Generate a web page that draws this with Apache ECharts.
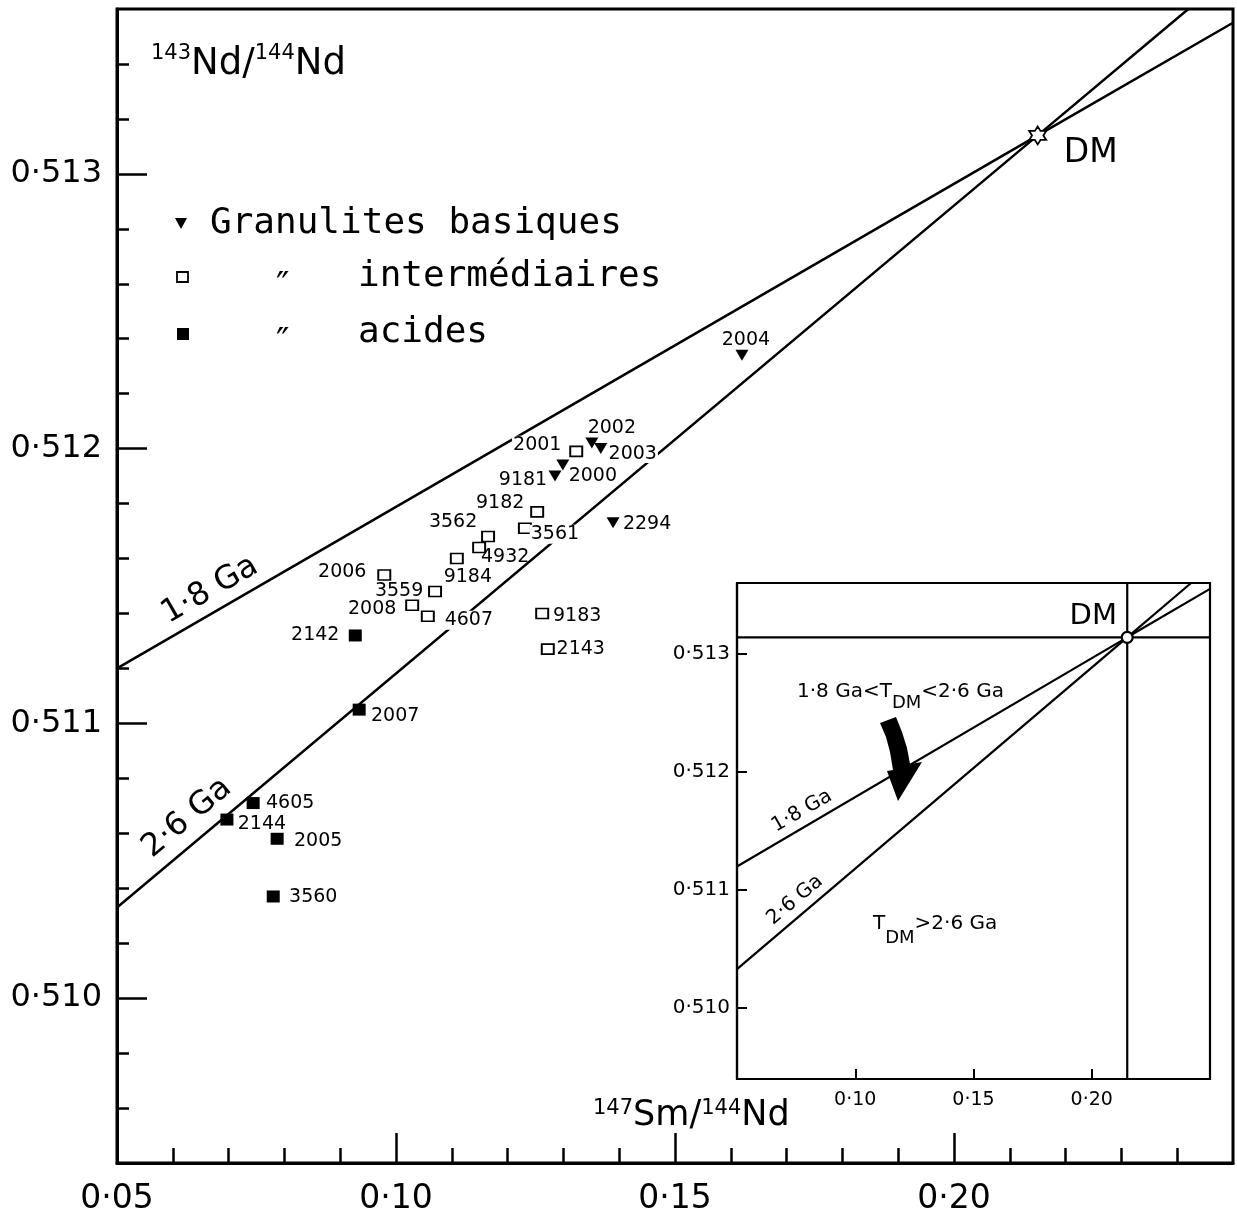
<!DOCTYPE html>
<html>
<head>
<meta charset="utf-8">
<script src="https://cdn.jsdelivr.net/npm/echarts@6/dist/echarts.min.js"></script>
<style>
  html, body { margin: 0; padding: 0; background: #fff; }
  #chart { width: 1237px; height: 1221px; }
</style>
</head>
<body>
<div id="chart"></div>
<script>
// ---------------- data ----------------
// Granulites basiques (filled down-triangles)
const basicIds = ['2004', '2002', '2003', '2000', '9181', '2294'];
const basicSm  = [0.1620, 0.1351, 0.1367, 0.1299, 0.1285, 0.1389];
const basicNd  = [0.51234, 0.51202, 0.51200, 0.51194, 0.51190, 0.51173];

// Granulites intermédiaires (open squares)
const interIds = ['2001', '9182', '3561', '3562', '4932', '9184', '2006', '3559', '2008', '4607', '9183', '2143'];
const interSm  = [0.1323, 0.1253, 0.1231, 0.1165, 0.1149, 0.1109, 0.0979, 0.1070, 0.1029, 0.1057, 0.1262, 0.1272];
const interNd  = [0.51199, 0.51177, 0.51171, 0.51168, 0.51164, 0.51160, 0.51154, 0.51148, 0.51143, 0.51139, 0.51140, 0.51127];

// Granulites acides (filled squares)
const acidIds = ['2142', '2007', '4605', '2144', '2005', '3560'];
const acidSm  = [0.0927, 0.0934, 0.0744, 0.0697, 0.0787, 0.0780];
const acidNd  = [0.51132, 0.51105, 0.51071, 0.51065, 0.51058, 0.51037];

// Depleted mantle point and model-age reference lines (isochrons through DM)
const dmPoint = [0.2150, 0.51314];
const iso18 = [[0.05, 0.51120], [0.2150, 0.51314], [0.25, 0.51355]];
const iso26 = [[0.05, 0.51033], [0.2150, 0.51314], [0.2420, 0.51360]];

// axis ranges and ticks
const xRange = [0.05, 0.25];
const yRange = [0.5094, 0.5136];
const xMajorTicks = [0.05, 0.10, 0.15, 0.20];
const xMinorTicks = [0.06, 0.07, 0.08, 0.09, 0.11, 0.12, 0.13, 0.14, 0.16, 0.17, 0.18, 0.19, 0.21, 0.22, 0.23, 0.24];
const yMajorTicks = [0.510, 0.511, 0.512, 0.513];
const yMinorTicks = [0.5096, 0.5098, 0.5102, 0.5104, 0.5106, 0.5108, 0.5112, 0.5114, 0.5116, 0.5118,
                     0.5122, 0.5124, 0.5126, 0.5128, 0.5132, 0.5134];
const insetXTicks = [0.10, 0.15, 0.20];
const insetYTicks = [0.510, 0.511, 0.512, 0.513];

// ---------------- styling ----------------
const FONT = '"DejaVu Sans", sans-serif';
const MONO = '"DejaVu Sans Mono", monospace';
const BLACK = '#000';

// label placement for each sample (pixel offset from marker centre)
const labelOffset = {
  '2004': [4, -15], '2002': [20, -15], '2003': [32, 5], '2000': [30, 11], '9181': [-32, 4], '2294': [34, 1],
  '2001': [-39, -6], '9182': [-37, -9], '3561': [30, 6], '3562': [-35, -14], '4932': [26, 10], '9184': [11, 19],
  '2006': [-42, -3], '3559': [-36, 0], '2008': [-40, 4], '4607': [41, 4], '9183': [35, 3], '2143': [33, 0],
  '2142': [-40, 0], '2007': [36, 6], '4605': [37, 0], '2144': [35, 5], '2005': [41, 2], '3560': [40, 1]
};
const gapLabels = { '2001': 1, '2003': 1, '3561': 1, '4607': 1 };

function pointsOf(ids, xs, ys) {
  return ids.map((id, i) => ({
    name: id,
    value: [xs[i], ys[i]],
    label: Object.assign(
      { offset: labelOffset[id] || [30, 0] },
      gapLabels[id] ? { backgroundColor: '#fff', padding: [0, 1] } : {}
    )
  }));
}

const pointLabel = {
  show: true, position: 'inside', formatter: p => p.name,
  color: BLACK, fontSize: 19, fontFamily: FONT
};

const dotFmt = (d) => (v) => v.toFixed(d).replace('.', '\u00b7');
const hexagram = 'path://M0,-10L2.887,-5L8.66,-5L5.77,0L8.66,5L2.887,5L0,10L-2.887,5L-8.66,5L-5.77,0L-8.66,-5L-2.887,-5Z';
const deg = Math.PI / 180;

// DM cross-hair lines of the inset, built from the DM point and the axis ranges
const dmVertical = [[dmPoint[0], yRange[0]], [dmPoint[0], yRange[1]]];
const dmHorizontal = [[xRange[0], dmPoint[1]], [xRange[1], dmPoint[1]]];

const option = {
  animation: false,
  backgroundColor: '#fff',
  grid: [
    { left: 117, top: 9, width: 1116, height: 1154, show: true, borderColor: BLACK, borderWidth: 3,
      backgroundColor: 'transparent' },
    { left: 737, top: 583, width: 473, height: 496, show: true, borderColor: BLACK, borderWidth: 2.2,
      backgroundColor: '#fff', z: 5 }
  ],
  xAxis: [
    { gridIndex: 0, type: 'value', min: xRange[0], max: xRange[1], position: 'bottom',
      axisLine: { show: true, lineStyle: { color: BLACK, width: 3 } },
      axisTick: { show: true, inside: true, length: 30, customValues: xMajorTicks, lineStyle: { color: BLACK, width: 2.5 } },
      axisLabel: { show: true, customValues: xMajorTicks, formatter: dotFmt(2), margin: 20,
                   color: BLACK, fontSize: 33, fontFamily: FONT },
      splitLine: { show: false } },
    { gridIndex: 0, type: 'value', min: xRange[0], max: xRange[1], position: 'bottom', offset: 0,
      axisLine: { show: false },
      axisTick: { show: true, inside: true, length: 15, customValues: xMinorTicks, lineStyle: { color: BLACK, width: 2.5 } },
      axisLabel: { show: false }, splitLine: { show: false } },
    { gridIndex: 1, type: 'value', min: xRange[0], max: xRange[1], position: 'bottom',
      axisLine: { show: true, lineStyle: { color: BLACK, width: 2.2 } },
      axisTick: { show: true, inside: true, length: 10, customValues: insetXTicks, lineStyle: { color: BLACK, width: 2 } },
      axisLabel: { show: true, customValues: insetXTicks, formatter: dotFmt(2), margin: 12,
                   color: BLACK, fontSize: 19, fontFamily: FONT },
      splitLine: { show: false }, z: 6 }
  ],
  yAxis: [
    { gridIndex: 0, type: 'value', min: yRange[0], max: yRange[1], position: 'left',
      axisLine: { show: true, lineStyle: { color: BLACK, width: 3 } },
      axisTick: { show: true, inside: true, length: 30, customValues: yMajorTicks, lineStyle: { color: BLACK, width: 2.5 } },
      axisLabel: { show: true, customValues: yMajorTicks, formatter: dotFmt(3), margin: 15,
                   color: BLACK, fontSize: 32, fontFamily: FONT },
      splitLine: { show: false } },
    { gridIndex: 0, type: 'value', min: yRange[0], max: yRange[1], position: 'left', offset: 0,
      axisLine: { show: false },
      axisTick: { show: true, inside: true, length: 12, customValues: yMinorTicks, lineStyle: { color: BLACK, width: 2.5 } },
      axisLabel: { show: false }, splitLine: { show: false } },
    { gridIndex: 1, type: 'value', min: yRange[0], max: yRange[1], position: 'left',
      axisLine: { show: true, lineStyle: { color: BLACK, width: 2.2 } },
      axisTick: { show: true, inside: true, length: 10, customValues: insetYTicks, lineStyle: { color: BLACK, width: 2 } },
      axisLabel: { show: true, customValues: insetYTicks, formatter: dotFmt(3), margin: 7,
                   color: BLACK, fontSize: 20, fontFamily: FONT },
      splitLine: { show: false }, z: 6 }
  ],
  series: [
    // main panel reference lines
    { type: 'line', name: '1.8 Ga', xAxisIndex: 0, yAxisIndex: 0, data: iso18, symbol: 'none',
      lineStyle: { color: BLACK, width: 2.5 }, z: 2, silent: true },
    { type: 'line', name: '2.6 Ga', xAxisIndex: 0, yAxisIndex: 0, data: iso26, symbol: 'none',
      lineStyle: { color: BLACK, width: 2.5 }, z: 2, silent: true },
    // samples
    { type: 'scatter', name: 'Granulites basiques', xAxisIndex: 0, yAxisIndex: 0,
      data: pointsOf(basicIds, basicSm, basicNd), symbol: 'triangle', symbolRotate: 180, symbolSize: [13, 11],
      itemStyle: { color: BLACK, opacity: 1 }, label: pointLabel, z: 4 },
    { type: 'scatter', name: 'intermédiaires', xAxisIndex: 0, yAxisIndex: 0,
      data: pointsOf(interIds, interSm, interNd), symbol: 'rect', symbolSize: [12, 10],
      itemStyle: { color: '#fff', borderColor: BLACK, borderWidth: 1.8, opacity: 1 }, label: pointLabel, z: 4 },
    { type: 'scatter', name: 'acides', xAxisIndex: 0, yAxisIndex: 0,
      data: pointsOf(acidIds, acidSm, acidNd), symbol: 'rect', symbolSize: [13, 12],
      itemStyle: { color: BLACK, opacity: 1 }, label: pointLabel, z: 4 },
    // DM
    { type: 'scatter', name: 'DM', xAxisIndex: 0, yAxisIndex: 0, data: [dmPoint],
      symbol: hexagram, symbolSize: [17, 18],
      itemStyle: { color: '#fff', borderColor: BLACK, borderWidth: 1.8, opacity: 1 },
      label: { show: true, position: 'inside', formatter: 'DM', offset: [53, 18], color: BLACK,
               fontSize: 33, fontFamily: FONT }, z: 5 },
    // inset
    { type: 'line', name: 'inset 1.8 Ga', xAxisIndex: 2, yAxisIndex: 2, data: iso18, symbol: 'none',
      lineStyle: { color: BLACK, width: 2.2 }, z: 7, silent: true },
    { type: 'line', name: 'inset 2.6 Ga', xAxisIndex: 2, yAxisIndex: 2, data: iso26, symbol: 'none',
      lineStyle: { color: BLACK, width: 2.2 }, z: 7, silent: true },
    { type: 'line', name: 'inset DM vertical', xAxisIndex: 2, yAxisIndex: 2, data: dmVertical, symbol: 'none',
      lineStyle: { color: BLACK, width: 2.2 }, z: 7, silent: true },
    { type: 'line', name: 'inset DM horizontal', xAxisIndex: 2, yAxisIndex: 2, data: dmHorizontal, symbol: 'none',
      lineStyle: { color: BLACK, width: 2.2 }, z: 7, silent: true },
    { type: 'scatter', name: 'inset DM', xAxisIndex: 2, yAxisIndex: 2, data: [dmPoint],
      symbol: 'circle', symbolSize: 11,
      itemStyle: { color: '#fff', borderColor: BLACK, borderWidth: 2.2, opacity: 1 },
      label: { show: true, position: 'inside', formatter: 'DM', offset: [-34, -21], color: BLACK,
               fontSize: 29, fontFamily: FONT }, z: 8 }
  ],
  graphic: [
    // axis titles
    { type: 'text', x: 151, y: 64, z: 100,
      style: { text: '{sup|143}Nd/{sup|144}Nd', fill: BLACK, fontSize: 37, fontFamily: FONT, lineHeight: 42,
               align: 'left', verticalAlign: 'middle',
               rich: { sup: { fontSize: 21, fontFamily: FONT, verticalAlign: 'top', lineHeight: 42 } } } },
    { type: 'text', x: 593, y: 1116, z: 100,
      style: { text: '{sup|147}Sm/{sup|144}Nd', fill: BLACK, fontSize: 35, fontFamily: FONT, lineHeight: 36,
               align: 'left', verticalAlign: 'middle',
               rich: { sup: { fontSize: 21, fontFamily: FONT, verticalAlign: 'top', lineHeight: 36 } } } },
    // legend
    { type: 'polygon', z: 100, shape: { points: [[175, 218], [187, 218], [181, 229]] }, style: { fill: BLACK } },
    { type: 'text', x: 210, y: 224, z: 100,
      style: { text: 'Granulites basiques', fill: BLACK, fontSize: 36, fontFamily: MONO, align: 'left', verticalAlign: 'middle' } },
    { type: 'rect', z: 100, shape: { x: 177, y: 272, width: 11, height: 10 }, style: { fill: '#fff', stroke: BLACK, lineWidth: 1.8 } },
    { type: 'text', x: 276, y: 288, z: 100,
      style: { text: '\u2033', fill: BLACK, fontSize: 36, fontFamily: FONT, align: 'left', verticalAlign: 'middle' } },
    { type: 'text', x: 358, y: 277, z: 100,
      style: { text: 'intermédiaires', fill: BLACK, fontSize: 36, fontFamily: MONO, align: 'left', verticalAlign: 'middle' } },
    { type: 'rect', z: 100, shape: { x: 177, y: 328, width: 12, height: 12 }, style: { fill: BLACK } },
    { type: 'text', x: 276, y: 344, z: 100,
      style: { text: '\u2033', fill: BLACK, fontSize: 36, fontFamily: FONT, align: 'left', verticalAlign: 'middle' } },
    { type: 'text', x: 358, y: 333, z: 100,
      style: { text: 'acides', fill: BLACK, fontSize: 36, fontFamily: MONO, align: 'left', verticalAlign: 'middle' } },
    // main panel line labels
    { type: 'text', x: 210, y: 590, rotation: 30 * deg, z: 100,
      style: { text: '1\u00b78 Ga', fill: BLACK, fontSize: 32, fontFamily: FONT, align: 'center', verticalAlign: 'middle' } },
    { type: 'text', x: 187, y: 818, rotation: 40 * deg, z: 100,
      style: { text: '2\u00b76 Ga', fill: BLACK, fontSize: 32, fontFamily: FONT, align: 'center', verticalAlign: 'middle' } },
    // inset annotations
    { type: 'text', x: 802, y: 811, rotation: 30 * deg, z: 100,
      style: { text: '1\u00b78 Ga', fill: BLACK, fontSize: 20, fontFamily: FONT, align: 'center', verticalAlign: 'middle' } },
    { type: 'text', x: 795, y: 900, rotation: 40 * deg, z: 100,
      style: { text: '2\u00b76 Ga', fill: BLACK, fontSize: 20, fontFamily: FONT, align: 'center', verticalAlign: 'middle' } },
    { type: 'text', x: 797, y: 692, z: 100,
      style: { text: '1\u00b78 Ga<T{sub|DM}<2\u00b76 Ga', fill: BLACK, fontSize: 20, fontFamily: FONT, lineHeight: 40,
               align: 'left', verticalAlign: 'middle',
               rich: { sub: { fontSize: 18, fontFamily: FONT, verticalAlign: 'bottom', lineHeight: 40 } } } },
    { type: 'text', x: 873, y: 924, z: 100,
      style: { text: 'T{sub|DM}>2\u00b76 Ga', fill: BLACK, fontSize: 20, fontFamily: FONT, lineHeight: 46,
               align: 'left', verticalAlign: 'middle',
               rich: { sub: { fontSize: 18, fontFamily: FONT, verticalAlign: 'bottom', lineHeight: 46 } } } },
    // curved arrow in inset
    { type: 'polygon', z: 100,
      shape: { points: [[880, 723], [896, 717], [902, 732], [907, 748], [910, 764], [922, 762], [898, 801],
                        [887, 771], [893, 770], [890, 752], [886, 737]] },
      style: { fill: BLACK } }
  ]
};

const chart = echarts.init(document.getElementById('chart'), null, { renderer: 'canvas' });
chart.setOption(option);
</script>
</body>
</html>
